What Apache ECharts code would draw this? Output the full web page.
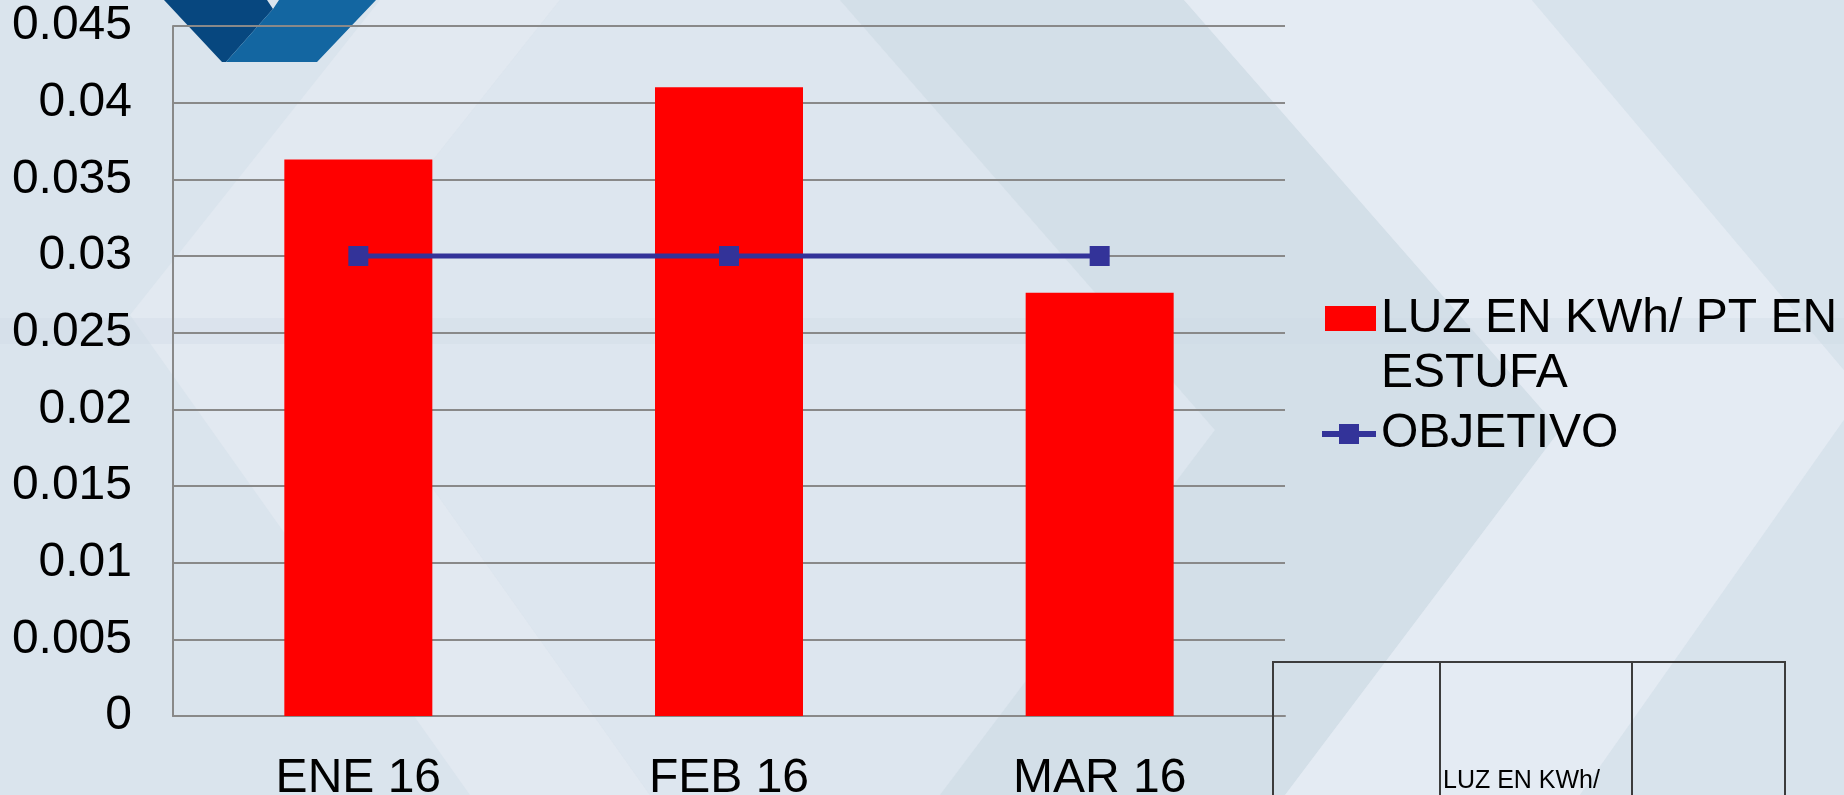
<!DOCTYPE html>
<html><head><meta charset="utf-8">
<script src="https://cdn.jsdelivr.net/npm/echarts@6/dist/echarts.min.js"></script>
<style>html,body{margin:0;padding:0;background:#dbe4ed;}#c{width:1844px;height:795px;}</style>
</head><body><div id="c"></div>
<script>
const categories = ['ENE 16', 'FEB 16', 'MAR 16'];
const luzValues = [0.0363, 0.0410, 0.0276];
const objetivoValues = [0.03, 0.03, 0.03];
const yTickLabels = ['0', '0.005', '0.01', '0.015', '0.02', '0.025', '0.03', '0.035', '0.04', '0.045'];
const seriesNames = ['LUZ EN KWh/ PT EN ESTUFA', 'OBJETIVO'];
const tableLabel = 'LUZ EN KWh/';

const FONT = '"Liberation Sans", Arial, sans-serif';
const chart = echarts.init(document.getElementById('c'), null, {renderer: 'canvas'});

function poly(points, fill, z) {
  return {type: 'polygon', z: z, silent: true, shape: {points: points}, style: {fill: fill}};
}

const bg = [
  {type: 'rect', z: -20, silent: true, shape: {x: 0, y: 0, width: 1844, height: 795}, style: {fill: '#dae4ed'}},
  poly([[380,0],[560,0],[310,315],[650,795],[470,795],[130,315]], '#e2e9f1', -19),
  poly([[560,0],[840,0],[1215,430],[940,795],[650,795],[310,315]], '#dde6ef', -19),
  poly([[840,0],[1184,0],[1560,430],[1285,795],[940,795],[1215,430]], '#d3dfe8', -19),
  poly([[1184,0],[1532,0],[1844,370],[1844,420],[1580,795],[1285,795],[1560,430]], '#e4ebf3', -19),
  poly([[1532,0],[1844,0],[1844,370]], '#d8e3ec', -19),
  poly([[1844,420],[1844,795],[1580,795]], '#d8e3ec', -19),
  {type: 'rect', z: -18, silent: true, shape: {x: 0, y: 318, width: 1844, height: 26}, style: {fill: 'rgba(205,218,229,0.35)'}},
  // logo
  poly([[164,0],[267,0],[273,9],[226,62],[222,62]], '#07477f', -17),
  poly([[273,9],[279,0],[376,0],[317,62],[226,62]], '#1366a1', -17),
  // table
  {type: 'rect', z: 10, silent: true, shape: {x: 1273, y: 662, width: 512, height: 160},
   style: {fill: 'none', stroke: '#3c3c3c', lineWidth: 2}},
  {type: 'line', z: 10, silent: true, shape: {x1: 1440, y1: 662, x2: 1440, y2: 795}, style: {stroke: '#3c3c3c', lineWidth: 2}},
  {type: 'line', z: 10, silent: true, shape: {x1: 1632, y1: 662, x2: 1632, y2: 795}, style: {stroke: '#3c3c3c', lineWidth: 2}},
  {type: 'text', z: 10, silent: true, x: 1443, y: 781,
   style: {text: tableLabel, fill: '#000', font: '25px ' + FONT, verticalAlign: 'middle', align: 'left'}}
];

chart.setOption({
  backgroundColor: 'transparent',
  animation: false,
  textStyle: {fontFamily: FONT},
  grid: {left: 173, top: 26, width: 1112, height: 690, containLabel: false, outerBoundsMode: 'none'},
  legend: [
    {
      data: [seriesNames[0]],
      orient: 'vertical', left: 1320, top: 231,
      itemWidth: 51, itemHeight: 25, icon: 'rect',
      formatter: n => ' \n' + n.replace(' ESTUFA', '\nESTUFA'),
      textStyle: {fontSize: 48, fontFamily: FONT, color: '#000', lineHeight: 55}
    },
    {
      data: [seriesNames[1]],
      orient: 'vertical', left: 1314, top: 405,
      itemWidth: 54, itemHeight: 25,
      lineStyle: {width: 6, color: '#333399'},
      textStyle: {fontSize: 48, fontFamily: FONT, color: '#000'}
    }
  ],
  xAxis: {
    type: 'category', data: categories,
    axisLine: {show: true, lineStyle: {color: '#898989', width: 2}},
    axisTick: {show: false},
    axisLabel: {fontSize: 48, color: '#000', fontFamily: FONT, margin: 39}
  },
  yAxis: {
    type: 'value', min: 0, max: 0.045, interval: 0.005,
    axisLine: {show: true, lineStyle: {color: '#898989', width: 2}},
    axisTick: {show: false},
    splitLine: {show: true, lineStyle: {color: '#898989', width: 2}},
    axisLabel: {fontSize: 48, color: '#000', fontFamily: FONT, margin: 41,
      formatter: (v, i) => yTickLabels[i] !== undefined ? yTickLabels[i] : String(v)}
  },
  series: [
    {
      name: seriesNames[0], type: 'bar', data: luzValues,
      barWidth: 148, itemStyle: {color: '#ff0000'}
    },
    {
      name: seriesNames[1], type: 'line', data: objetivoValues,
      symbol: 'rect', symbolSize: 20,
      lineStyle: {color: '#333399', width: 5},
      itemStyle: {color: '#333399'}
    }
  ],
  graphic: bg
});
</script></body></html>
